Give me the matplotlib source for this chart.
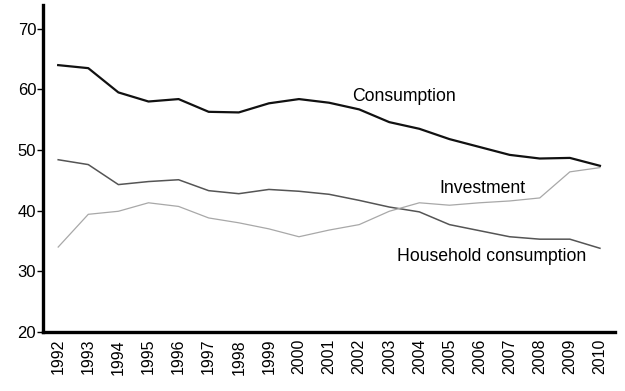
import matplotlib
matplotlib.use('Agg')
import matplotlib.pyplot as plt
from matplotlib import font_manager

names = {f.name for f in font_manager.fontManager.ttflist}
FONT = 'Liberation Sans' if 'Liberation Sans' in names else 'DejaVu Sans'
plt.rcParams['font.family'] = [FONT, 'DejaVu Sans']

# ── Data (% of GDP) ─────────────────────────────────────────────────────
YEARS = list(range(1992, 2011))
CONSUMPTION = [64.0, 63.5, 59.5, 58.0, 58.4, 56.3, 56.2, 57.7, 58.4, 57.8,
               56.7, 54.6, 53.5, 51.8, 50.5, 49.2, 48.6, 48.7, 47.4]
HOUSEHOLD = [48.4, 47.6, 44.3, 44.8, 45.1, 43.3, 42.8, 43.5, 43.2, 42.7,
             41.7, 40.6, 39.8, 37.7, 36.7, 35.7, 35.3, 35.3, 33.8]
INVESTMENT = [34.0, 39.4, 39.9, 41.3, 40.7, 38.8, 38.0, 37.0, 35.7, 36.8,
              37.7, 39.9, 41.3, 40.9, 41.3, 41.6, 42.1, 46.4, 47.1]
Y_TICKS = [20, 30, 40, 50, 60, 70]

fig = plt.figure(figsize=(6.25, 3.91), dpi=100)
ax = fig.add_axes([0.069, 0.151, 0.915, 0.836])

ax.plot(YEARS, CONSUMPTION, color='#111111', lw=1.6)
ax.plot(YEARS, HOUSEHOLD, color='#555555', lw=1.1)
ax.plot(YEARS, INVESTMENT, color='#a8a8a8', lw=0.9)

ax.text(2003.5, 58.9, 'Consumption', fontsize=12.7, ha='center', va='center')
ax.text(2006.1, 43.6, 'Investment', fontsize=12.7, ha='center', va='center')
ax.text(2006.4, 32.4, 'Household consumption', fontsize=12.7,
        ha='center', va='center')

ax.set_xlim(1991.5, 2010.5)
ax.set_ylim(20, 73.9)
ax.set_xticks(YEARS)
ax.set_xticklabels([str(y) for y in YEARS], rotation=90, fontsize=11.5)
ax.set_yticks(Y_TICKS)
ax.tick_params(axis='y', labelsize=12, length=4, width=1, pad=1)
ax.tick_params(axis='x', length=0, pad=5)

for side in ('top', 'right'):
    ax.spines[side].set_visible(False)
for side in ('left', 'bottom'):
    ax.spines[side].set_linewidth(2.4)

fig.savefig('out.png', dpi=100)
